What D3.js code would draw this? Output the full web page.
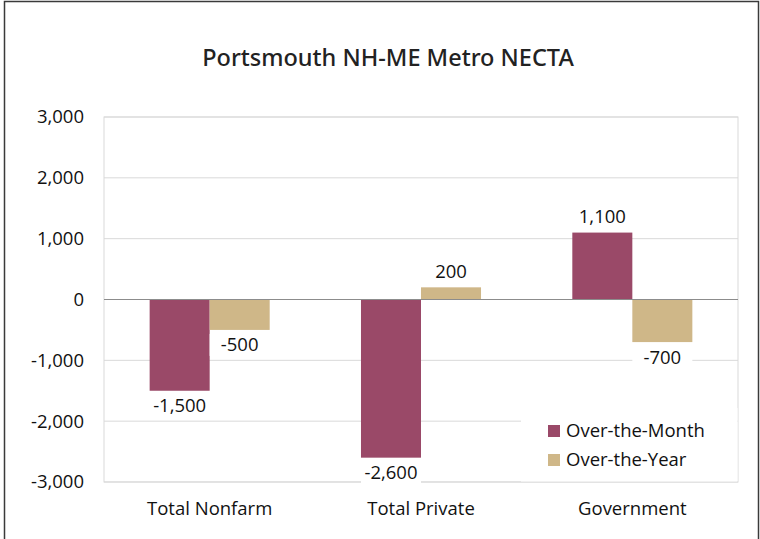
<!DOCTYPE html>
<html>
<head>
<meta charset="utf-8">
<script src="https://cdn.jsdelivr.net/npm/d3@7"></script>
<style>
  body { margin: 0; background: #fff; }
  svg { display: block; }
  text { font-family: "Open Sans", "Noto Sans", sans-serif; fill: #111; }
</style>
</head>
<body>
<script>
"use strict";

let categories = ["Total Nonfarm", "Total Private", "Government"];
let seriesNames = ["Over-the-Month", "Over-the-Year"];
let overMonth = [-1500, -2600, 1100];
let overYear = [-500, 200, -700];
let yTicks = [-3000, -2000, -1000, 0, 1000, 2000, 3000];
let colors = ["#9a4968", "#cfb788"];

let width = 760, height = 539;
let margin = {top: 117, right: 22, bottom: 57, left: 104};
let fs = "18.5px";

let svg = d3.select("body").append("svg").attr("width", width).attr("height", height);

// outer frame
svg.append("rect")
    .attr("x", 4.5).attr("y", 1.5)
    .attr("width", width - 6).attr("height", height + 10)
    .attr("fill", "none").attr("stroke", "#3a3a3a").attr("stroke-width", 1.5);

svg.append("text")
    .attr("x", 388).attr("y", 66)
    .attr("text-anchor", "middle")
    .style("font-family", "'Noto Sans', sans-serif")
    .style("font-weight", 500)
    .style("font-size", "23.5px")
    .style("fill", "#222")
    .text("Portsmouth NH-ME Metro NECTA");

let x0 = d3.scaleBand().domain(categories)
    .range([margin.left, width - margin.right])
    .paddingInner(0.432).paddingOuter(0.216);
let x1 = d3.scaleBand().domain(seriesNames).range([0, x0.bandwidth()]);
let y = d3.scaleLinear().domain([-3000, 3000]).range([height - margin.bottom, margin.top]);

let fmt = v => d3.format(",")(v).replace("\u2212", "-");

// gridlines
svg.append("g")
    .selectAll("line")
    .data(yTicks.filter(d => d !== 0))
    .join("line")
    .attr("x1", margin.left).attr("x2", width - margin.right)
    .attr("y1", d => y(d)).attr("y2", d => y(d))
    .attr("stroke", "#d9d9d9").attr("stroke-width", 1);

// plot border
svg.append("rect")
    .attr("x", margin.left).attr("y", y(3000))
    .attr("width", width - margin.right - margin.left)
    .attr("height", y(-3000) - y(3000))
    .attr("fill", "none").attr("stroke", "#d9d9d9");

// y axis labels
let yAxis = svg.append("g")
    .attr("transform", `translate(${margin.left},0)`)
    .call(d3.axisLeft(y).tickValues(yTicks).tickFormat(fmt).tickSize(0).tickPadding(20));
yAxis.select(".domain").remove();
yAxis.selectAll("text").style("font-size", fs).style("fill", "#111");

// x axis labels
let xAxis = svg.append("g")
    .attr("transform", `translate(0,${height - margin.bottom})`)
    .call(d3.axisBottom(x0).tickSize(0).tickPadding(20));
xAxis.select(".domain").remove();
xAxis.selectAll("text").style("font-size", fs).style("fill", "#111");

let rows = categories.map((c, i) => ({
    cat: c,
    vals: [overMonth[i], overYear[i]]
}));

let groups = svg.append("g").selectAll("g")
    .data(rows)
    .join("g")
    .attr("transform", d => `translate(${x0(d.cat)},0)`);

groups.selectAll("rect")
    .data(d => d.vals.map((v, j) => ({v: v, s: seriesNames[j], j: j})))
    .join("rect")
    .attr("x", d => x1(d.s))
    .attr("width", x1.bandwidth())
    .attr("y", d => y(Math.max(0, d.v)))
    .attr("height", d => Math.abs(y(d.v) - y(0)))
    .attr("fill", d => colors[d.j]);

// zero line
svg.append("line")
    .attr("x1", margin.left).attr("x2", width - margin.right)
    .attr("y1", y(0)).attr("y2", y(0))
    .attr("stroke", "#8c8c8c").attr("stroke-width", 1);

// data labels with white background
let labels = groups.selectAll("g.lbl")
    .data(d => d.vals.map((v, j) => ({v: v, s: seriesNames[j], j: j})))
    .join("g")
    .attr("class", "lbl")
    .attr("transform", d => {
        let cx = x1(d.s) + x1.bandwidth() / 2;
        let cy = d.v < 0 ? y(d.v) + 15 : y(d.v) - 16;
        return `translate(${cx},${cy})`;
    });
labels.append("rect")
    .attr("x", -30).attr("y", -11).attr("width", 60).attr("height", 22)
    .attr("fill", "#fff");
labels.append("text")
    .attr("text-anchor", "middle")
    .attr("dy", "0.35em")
    .style("font-size", fs)
    .text(d => fmt(d.v));

// legend
let legend = svg.append("g");
legend.append("rect")
    .attr("x", 521).attr("y", 408)
    .attr("width", width - margin.right - 521 - 0.5).attr("height", y(-3000) - 408 - 0.5)
    .attr("fill", "#fff");
let li = legend.selectAll("g.item")
    .data(seriesNames)
    .join("g")
    .attr("class", "item")
    .attr("transform", (d, i) => `translate(548,${431 + i * 29})`);
li.append("rect")
    .attr("x", 0).attr("y", -6).attr("width", 12).attr("height", 12)
    .attr("fill", (d, i) => colors[i]);
li.append("text")
    .attr("x", 18).attr("dy", "0.35em")
    .style("font-size", fs)
    .text(d => d);
</script>
</body>
</html>
